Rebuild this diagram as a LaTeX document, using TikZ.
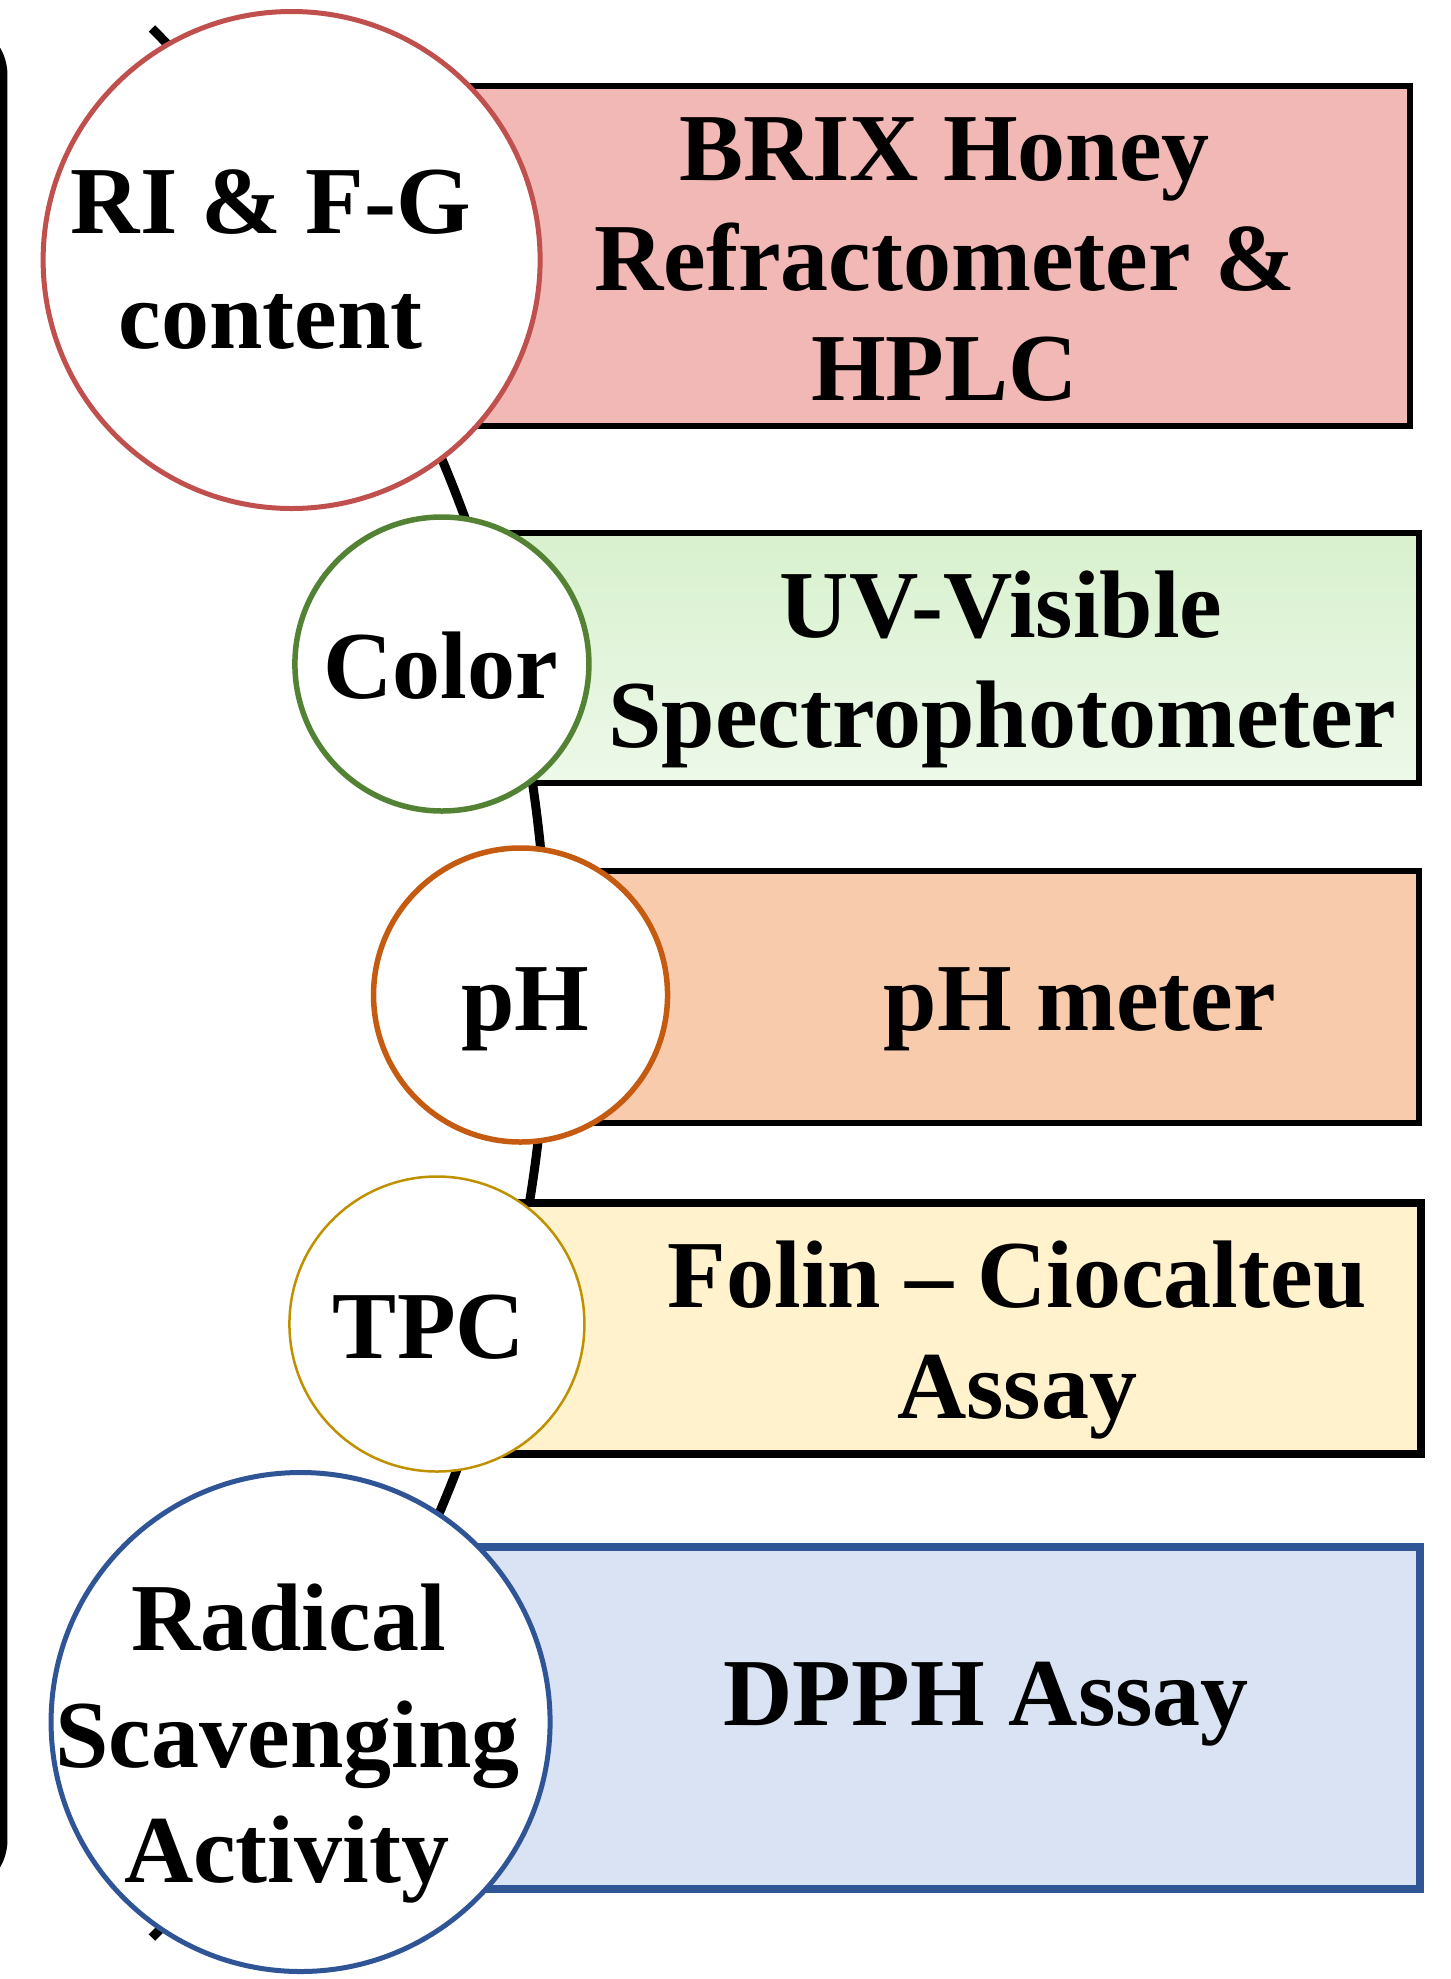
\documentclass[tikz,border=0pt]{standalone}
\usepackage{fontspec}
\setmainfont{Liberation Serif}
\definecolor{pinkfill}{HTML}{F1B8B6}
\definecolor{greentop}{HTML}{D8F1CE}
\definecolor{greenbot}{HTML}{EDF8E9}
\definecolor{orangefill}{HTML}{F8CBAD}
\definecolor{yellowfill}{HTML}{FFF2CC}
\definecolor{bluefill}{HTML}{DAE3F3}
\definecolor{redring}{HTML}{C0504D}
\definecolor{greenring}{HTML}{548235}
\definecolor{orangering}{HTML}{C55A11}
\definecolor{goldring}{HTML}{BF9000}
\definecolor{bluering}{HTML}{2F5597}
\begin{document}
\begin{tikzpicture}[x=0.9953pt,y=-1pt,
  lbl/.style={font=\fontsize{96}{110}\selectfont\bfseries, anchor=base, inner sep=0pt},
  ring/.style={circle, fill=white, inner sep=0pt, minimum size=#1}]
\useasboundingbox (0,0) rectangle (1457.8,1979);
% left bracket
\draw[line width=8pt, rounded corners=50pt] (-200,25) -- (3.5,25) -- (3.5,1890) -- (-200,1890);
% big arc
\draw[line width=9pt] (152.6,1937.6) arc[start angle=-45, end angle=45, radius=1350pt];
% boxes
\draw[fill=pinkfill, line width=6pt] (300,85.5) rectangle (1416.5,425.5);
\shade[top color=greentop, bottom color=greenbot] (440,532.5) rectangle (1425.5,782.5);
\draw[line width=6pt] (440,532.5) rectangle (1425.5,782.5);
\draw[fill=orangefill, line width=6pt] (520,871) rectangle (1425.5,1122.5);
\draw[fill=yellowfill, line width=8pt] (440,1203) rectangle (1427.5,1453.5);
\draw[fill=bluefill, draw=bluering, line width=8pt] (300,1546.5) rectangle (1427,1889);
% circles
\node[ring=497pt, draw=redring, line width=5pt] (c1) at (293,260) {};
\node[ring=294pt, draw=greenring, line width=5.5pt] (c2) at (444,664) {};
\node[ring=294pt, draw=orangering, line width=5.5pt] (c3) at (523,995) {};
\node[ring=295pt, draw=goldring, line width=2.5pt] (c4) at (439,1324) {};
\node[ring=499pt, draw=bluering, line width=5pt] (c5) at (302,1722) {};
% circle labels
\node[lbl] (t1a) at (272,233) {RI \& F-G};
\node[lbl] (t1b) at (272,348) {content};
\node[lbl] (t2) at (443,698) {Color};
\node[lbl] (t3) at (528,1030) {pH};
\node[lbl] (t4) at (431,1358) {TPC};
\node[lbl] (t5a) at (290,1650) {Radical};
\node[lbl] (t5b) at (289,1767) {Scavenging};
\node[lbl] (t5c) at (288,1882) {Activity};
% box labels
\node[lbl] (b1a) at (949,180) {BRIX Honey};
\node[lbl] (b1b) at (949,290) {Refractometer \&};
\node[lbl] (b1c) at (949,400) {HPLC};
\node[lbl] (b2a) at (1006,637) {UV-Visible};
\node[lbl] (b2b) at (1007,747) {Spectrophotometer};
\node[lbl] (b3) at (1085,1030) {pH meter};
\node[lbl] (b4a) at (1022,1307) {Folin – Ciocalteu};
\node[lbl] (b4b) at (1022,1418) {Assay};
\node[lbl] (b5) at (991,1725) {DPPH Assay};
\end{tikzpicture}
\end{document}
